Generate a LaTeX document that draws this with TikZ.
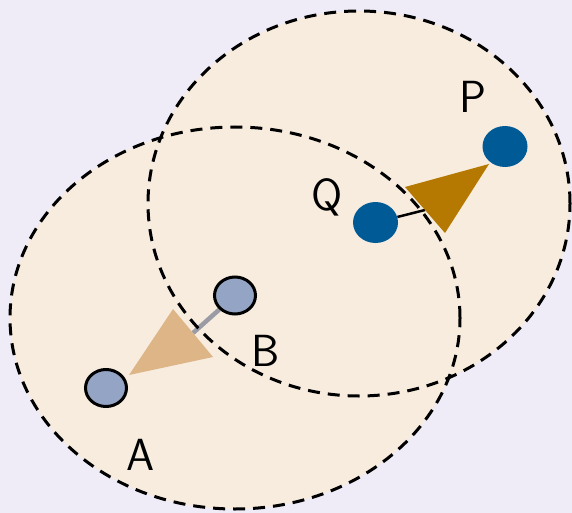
\documentclass[tikz,border=0pt]{standalone}
\usetikzlibrary{shapes.geometric}
\definecolor{bgc}{RGB}{239,235,247}
\definecolor{zone}{RGB}{247,236,222}
\definecolor{lightdisk}{RGB}{148,164,196}
\definecolor{darkdisk}{RGB}{0,90,150}
\definecolor{conetan}{RGB}{222,181,135}
\definecolor{conebrown}{RGB}{181,120,0}
\definecolor{linkgray}{RGB}{155,155,165}
\pgfdeclarelayer{zonelayer}
\pgfdeclarelayer{midlayer}
\pgfsetlayers{zonelayer,midlayer,main}
\begin{document}
\begin{tikzpicture}[x=1pt,y=-1pt,
  zoneline/.style={draw=black,line width=3pt,dash pattern=on 12pt off 8pt},
  lightpt/.style={ellipse,fill=lightdisk,draw=black,line width=3pt,minimum width=41pt,minimum height=37pt,inner sep=0pt},
  darkpt/.style={ellipse,fill=darkdisk,minimum width=45pt,minimum height=41pt,inner sep=0pt},
  lbl/.style={anchor=base,inner sep=0pt,font=\sffamily\fontsize{45}{45}\selectfont}]
\useasboundingbox (0,0) rectangle (572,513);
% points
\node[lightpt] (A) at (106,388) {};
\node[lightpt] (B) at (235,295.5) {};
\node[darkpt] (Q) at (375.5,222.5) {};
\node[darkpt] (P) at (505,146.5) {};
% labels
\node[lbl] (labA) at (141,470) {A};
\node[lbl] (labB) at (266,366) {B};
\node[lbl] (labQ) at (327,210) {Q};
\node[lbl] (labP) at (473,113) {P};
\begin{pgfonlayer}{zonelayer}
  \fill[bgc] (0,0) rectangle (572,513);
  \fill[zone] (235,318) ellipse [x radius=225pt, y radius=191pt];
  \fill[zone] (359,203.5) ellipse [x radius=211pt, y radius=192.5pt];
\end{pgfonlayer}
\begin{pgfonlayer}{midlayer}
  \coordinate (Bfoot) at (193,333);
  \coordinate (Qfoot) at (425,210);
  \draw[linkgray,line width=4.5pt] (B) -- (Bfoot);
  \draw[black,line width=2.5pt] (Q) -- (Qfoot);
  \fill[conetan] (129,375) -- (173,309) -- (213,357) -- cycle;
  \fill[conebrown] (489,164) -- (405,187) -- (445,233) -- cycle;
  \draw[zoneline] (235,318) ellipse [x radius=225pt, y radius=191pt];
  \draw[zoneline] (359,203.5) ellipse [x radius=211pt, y radius=192.5pt];
\end{pgfonlayer}
\end{tikzpicture}
\end{document}
